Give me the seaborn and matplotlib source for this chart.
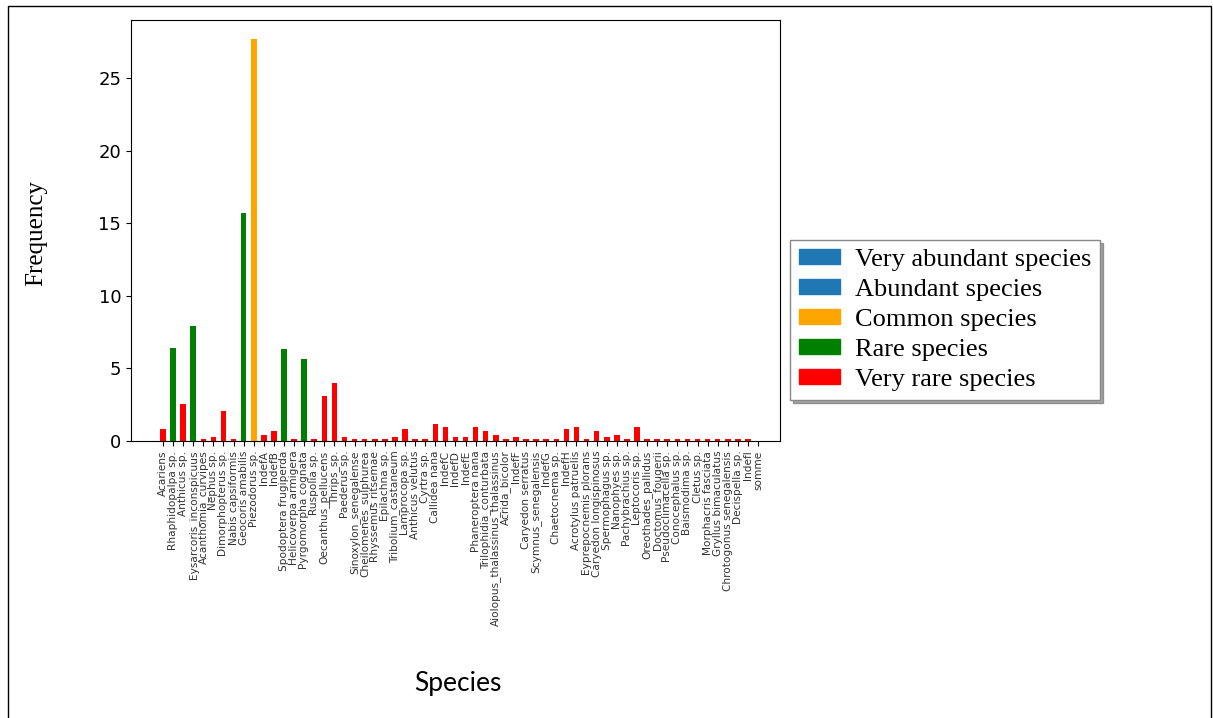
import matplotlib
matplotlib.use("Agg")
import matplotlib.pyplot as plt
from matplotlib.patches import Patch, Rectangle
import seaborn as sns
import pandas as pd

species = [
    "Acariens", "Rhaphidopalpa sp.", "Anthicus sp.", "Eysarcoris_inconspicuus",
    "Acanthomia_curvipes", "Nephus sp.", "Dimorphopterus sp.", "Nabis capsiformis",
    "Geocoris amabilis", "Piezodorus sp.", "IndefA", "IndefB",
    "Spodoptera frugiperda", "Helicoverpa armigera", "Pyrgomorpha cognata", "Ruspolia sp.",
    "Oecanthus_pellucens", "Thrips_sp.", "Paederus sp.", "Sinoxylon_senegalense",
    "Cheilomenes_sulphurea", "Rhyssemus ritsemae", "Epilachna sp.", "Tribolium_castaneum",
    "Lamprocopa sp.", "Anthicus velutus", "Cyrtra sp.", "Callidea nana",
    "IndefC", "IndefD", "IndefE", "Phaneroptera nana",
    "Trilophidia_conturbata", "Aiolopus_thalassinus_thalassinus", "Acrida_bicolor", "IndefF",
    "Caryedon serratus", "Scymnus_senegalensis", "IndefG", "Chaetocnema sp.",
    "IndefH", "Acrotylus patruelis", "Eyprepocnemis plorans", "Caryedon longispinosus",
    "Spermophagus sp.", "Nanophyes sp.", "Pachybrachius sp.", "Leptocoris sp.",
    "Oreothades_pallidus", "Doctomus_fougerii", "Pseudoclimacella sp.", "Conocephalus sp.",
    "Baismodima sp.", "Cletus sp.", "Morphacris fasciata", "Gryllus bimaculatus",
    "Chrotogonus senegalensis", "Decispella sp.", "IndefI", "somme",
]

frequency = [
    0.83, 6.43, 2.57, 7.92, 0.14, 0.30, 2.04, 0.16,
    15.68, 27.70, 0.41, 0.69, 6.31, 0.16, 5.65, 0.16,
    3.10, 4.00, 0.30, 0.16, 0.16, 0.16, 0.16, 0.30,
    0.83, 0.16, 0.16, 1.20, 0.96, 0.30, 0.30, 0.96,
    0.71, 0.44, 0.16, 0.30, 0.16, 0.16, 0.16, 0.16,
    0.83, 0.96, 0.16, 0.71, 0.30, 0.44, 0.16, 0.96,
    0.16, 0.16, 0.16, 0.16, 0.16, 0.16, 0.16, 0.16,
    0.16, 0.16, 0.16, 0.0,
]

category = (["Very rare species", "Rare species", "Very rare species", "Rare species"]
            + ["Very rare species"] * 4
            + ["Rare species", "Common species", "Very rare species", "Very rare species",
               "Rare species", "Very rare species", "Rare species"]
            + ["Very rare species"] * 45)

legend_labels = ["Very abundant species", "Abundant species", "Common species",
                 "Rare species", "Very rare species"]
legend_colors = ["#1f77b4", "#1f77b4", "orange", "green", "red"]
palette = dict(zip(legend_labels, legend_colors))

df = pd.DataFrame({"Species": species, "Frequency": frequency, "Category": category})

fig = plt.figure(figsize=(12.13, 7.18), dpi=100)
ax = fig.add_axes([131 / 1213, 1 - 441 / 718, (780 - 131) / 1213, (441 - 20) / 718])

sns.barplot(data=df, x="Species", y="Frequency", hue="Category", order=species,
            palette=palette, dodge=False, width=0.55, ax=ax, legend=False,
            saturation=1)

ax.set_xlim(-3.17, 61.18)
ax.set_ylim(0, 29)
ax.set_yticks([0, 5, 10, 15, 20, 25])
ax.tick_params(axis="y", labelsize=13)
ax.tick_params(axis="x", labelsize=7.6, rotation=90, length=3.5, labelcolor="#333333")
for s in ax.spines.values():
    s.set_visible(True)
    s.set_color("black")

ax.set_xlabel("")
ax.set_ylabel("")
fig.text(36 / 1213, 1 - 233 / 718, "Frequency", family="Liberation Serif", fontsize=18,
         rotation=90, ha="center", va="center")
fig.text(458 / 1213, 1 - 684 / 718, "Species", family="Lato", fontsize=19,
         ha="center", va="center")

handles = [Patch(facecolor=c, edgecolor=c) for c in legend_colors]
leg = fig.legend(handles, legend_labels, loc="center left",
                 bbox_to_anchor=(790 / 1213, 1 - 320 / 718), bbox_transform=fig.transFigure,
                 prop={"family": "Liberation Serif", "size": 19},
                 frameon=True, fancybox=False, shadow=True, handlelength=1.55,
                 handleheight=0.5, handletextpad=0.55, labelspacing=0.3, borderpad=0.35,
                 borderaxespad=0)
leg.get_frame().set_edgecolor("#888888")

fig.patches.append(Rectangle((8 / 1213, -0.01), (1211 - 8) / 1213, 1 - 6 / 718 + 0.01,
                             transform=fig.transFigure, fill=False, edgecolor="black",
                             linewidth=1))

fig.savefig("out.png", dpi=100)
